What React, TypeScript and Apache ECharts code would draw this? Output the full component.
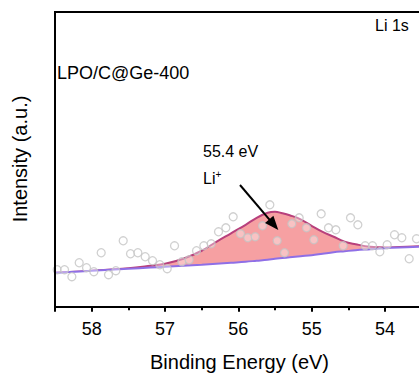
import React, { useEffect, useRef } from "react";
import * as echarts from "echarts";

// Measured points (binding energy, eV) and intensities (a.u.)
const pointEnergies = [
  58.47, 58.37, 58.27, 58.17, 58.07, 57.97, 57.87, 57.77, 57.67, 57.57,
  57.47, 57.37, 57.27, 57.17, 57.07, 56.97, 56.87, 56.77, 56.67, 56.57,
  56.47, 56.37, 56.27, 56.17, 56.07, 55.97, 55.87, 55.77, 55.67, 55.57,
  55.47, 55.37, 55.27, 55.17, 55.07, 54.97, 54.87, 54.77, 54.67, 54.57,
  54.47, 54.37, 54.27, 54.17, 54.07, 53.97, 53.87, 53.77, 53.67, 53.57,
];
const pointIntensities = [
  37, 37, 30, 44, 39, 35, 54, 32, 36, 66,
  53, 54, 50, 46, 42, 38, 61, 45, 47, 56,
  61, 63, 75, 79, 90, 73, 69, 70, 81, 102,
  66, 54, 83, 89, 79, 67, 93, 79, 77, 61,
  89, 82, 61, 61, 55, 62, 72, 69, 48, 68,
];

// Fit curves
const fitEnergies = [
  58.5, 58.0, 57.5, 57.2, 57.0, 56.75, 56.5, 56.3, 56.1, 55.9,
  55.75, 55.6, 55.5, 55.4, 55.3, 55.15, 55.0, 54.85, 54.7, 54.55,
  54.4, 54.2, 54.0, 53.8, 53.5,
];
const baseline = [
  34, 36, 38, 39.2, 40, 41, 42, 43, 44, 45,
  46, 47, 48, 48.7, 49.4, 50.5, 51.5, 53, 54.5, 55.5,
  56.5, 57.5, 58.5, 59.2, 60,
];
const envelope = [
  34, 36, 38.5, 41, 43, 48, 56, 65, 73.5, 82,
  89, 94, 95, 93.5, 91.5, 87.5, 81, 75, 70, 65,
  62.5, 60, 59.3, 59.8, 60.5,
];

const xTickLabels = ["54", "55", "56", "57", "58"];

const FONT = "'Liberation Sans', Arial, Helvetica, sans-serif";

export default function App() {
  const ref = useRef<HTMLDivElement>(null);
  useEffect(() => {
    document.body.style.margin = "0";
    document.body.style.overflow = "hidden";
    if (!ref.current) return;
    const chart = echarts.init(ref.current, undefined, { renderer: "svg" });
    const basePairs = fitEnergies.map((e, i) => [e, baseline[i]]);
    const envPairs = fitEnergies.map((e, i) => [e, envelope[i]]);
    const scatterPairs = pointEnergies.map((e, i) => [e, pointIntensities[i]]);

    // arrow geometry (annotation)
    const x0 = 240, y0 = 185, x1 = 278.3, y1 = 230;
    const dx = x1 - x0, dy = y1 - y0;
    const len = Math.sqrt(dx * dx + dy * dy);
    const ux = dx / len, uy = dy / len;
    const headLen = 14, headHalf = 5.5;
    const bx = x1 - ux * headLen, by = y1 - uy * headLen;

    chart.setOption({
      animation: false,
      textStyle: { fontFamily: FONT },
      grid: {
        left: 55,
        top: 12,
        right: -39.3,
        bottom: 70.3,
        outerBoundsMode: "none",
        containLabel: false,
        show: true,
        borderColor: "#000",
        borderWidth: 2,
        backgroundColor: "transparent",
      },
      xAxis: {
        type: "value",
        inverse: true,
        min: 53,
        max: 58.5,
        interval: 1,
        z: 10,
        axisLine: { show: true, onZero: false, lineStyle: { color: "#000", width: 2 } },
        axisTick: { show: true, inside: false, length: 5, lineStyle: { color: "#000", width: 2 } },
        minorTick: { show: true, splitNumber: 2, length: 3.5, lineStyle: { color: "#000", width: 2 } },
        splitLine: { show: false },
        minorSplitLine: { show: false },
        axisLabel: {
          show: true,
          margin: 13,
          fontSize: 18,
          color: "#000",
          fontFamily: FONT,
          showMaxLabel: false,
          showMinLabel: false,
          formatter: (v: number) => {
            const s = String(Math.round(v));
            return Math.abs(v - Math.round(v)) < 1e-6 && xTickLabels.includes(s) ? s : "";
          },
        },
      },
      yAxis: {
        type: "value",
        min: 0,
        max: 295,
        z: 10,
        axisLine: { show: true, lineStyle: { color: "#000", width: 2 } },
        axisTick: { show: false },
        axisLabel: { show: false },
        splitLine: { show: false },
      },
      series: [
        {
          type: "line",
          name: "Li+",
          data: envPairs,
          smooth: 0.4,
          showSymbol: false,
          symbol: "none",
          lineStyle: { color: "#b8407c", width: 2 },
          areaStyle: { color: "#f6a0a2", opacity: 1, origin: "start" },
          z: 2,
        },
        {
          type: "line",
          name: "Baseline",
          data: basePairs,
          smooth: 0.4,
          showSymbol: false,
          symbol: "none",
          lineStyle: { color: "#8f6fe6", width: 2 },
          areaStyle: { color: "#ffffff", opacity: 1, origin: "start" },
          z: 3,
        },
        {
          type: "scatter",
          name: "Data",
          data: scatterPairs,
          symbol: "circle",
          symbolSize: 8,
          itemStyle: {
            color: "rgba(255,255,255,0.45)",
            borderColor: "#c4c4c4",
            borderWidth: 1.3,
          },
          z: 5,
        },
      ],
      graphic: [
        {
          type: "text",
          left: 375,
          top: 17,
          style: { text: "Li 1s", fontSize: 16, fill: "#000", fontFamily: FONT },
        },
        {
          type: "text",
          left: 57,
          top: 64,
          style: { text: "LPO/C@Ge-400", fontSize: 18, fill: "#000", fontFamily: FONT },
        },
        {
          type: "text",
          left: 203,
          top: 143,
          style: { text: "55.4 eV", fontSize: 16, fill: "#000", fontFamily: FONT },
        },
        {
          type: "text",
          left: 203,
          top: 169,
          style: {
            text: "Li{sup|+}",
            fontSize: 16,
            fill: "#000",
            fontFamily: FONT,
            rich: {
              sup: { fontSize: 10, verticalAlign: "top", fill: "#000", fontFamily: FONT, padding: [0, 0, 8, 0] },
            },
          },
        },
        {
          type: "line",
          shape: { x1: x0, y1: y0, x2: bx + ux * 2, y2: by + uy * 2 },
          style: { stroke: "#000", lineWidth: 2 },
          z: 20,
        },
        {
          type: "polygon",
          shape: {
            points: [
              [x1, y1],
              [bx - uy * headHalf, by + ux * headHalf],
              [bx + uy * headHalf, by - ux * headHalf],
            ],
          },
          style: { fill: "#000" },
          z: 20,
        },
        {
          type: "text",
          x: 239.5,
          y: 362,
          style: {
            text: "Binding Energy (eV)",
            fontSize: 20,
            fill: "#000",
            fontFamily: FONT,
            align: "center",
            verticalAlign: "middle",
          },
        },
        {
          type: "text",
          x: 20,
          y: 159,
          rotation: Math.PI / 2,
          style: {
            text: "Intensity (a.u.)",
            fontSize: 20,
            fill: "#000",
            fontFamily: FONT,
            align: "center",
            verticalAlign: "middle",
          },
        },
      ],
    });
    return () => chart.dispose();
  }, []);
  return <div ref={ref} style={{ width: 419, height: 377 }} />;
}
